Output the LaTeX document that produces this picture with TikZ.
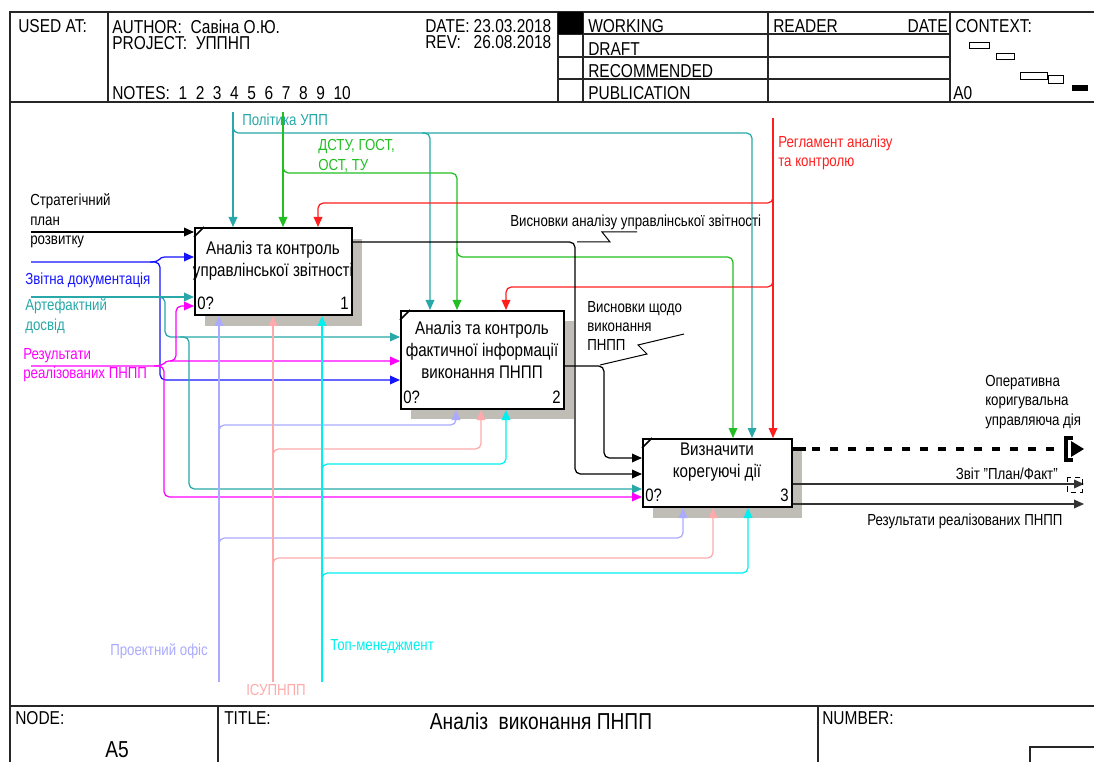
\documentclass[tikz,border=0pt]{standalone}
\usepackage{fontspec}
\setmainfont{Liberation Sans}[FakeStretch=0.83]
\usetikzlibrary{arrows.meta,fit,calc}

\definecolor{cTeal}{RGB}{40,168,168}
\definecolor{cGreen}{RGB}{34,190,34}
\definecolor{cRed}{RGB}{255,30,30}
\definecolor{cBlue}{RGB}{20,20,255}
\definecolor{cMag}{RGB}{255,0,255}
\definecolor{cLav}{RGB}{170,170,255}
\definecolor{cPink}{RGB}{255,170,170}
\definecolor{cCyan}{RGB}{0,240,240}
\definecolor{cShadow}{RGB}{192,188,182}

\begin{document}
\begin{tikzpicture}[x=0.75pt,y=-0.75pt,
  every node/.style={inner sep=0pt},
  frame/.style={line width=0.9pt, black!85},
  hdr/.style={font=\fontsize{14}{15}\selectfont, anchor=base west},
  hdre/.style={hdr, anchor=base east},
  hdrtwo/.style={font=\fontsize{14}{12}\selectfont, anchor=north west, align=left},
  ftitle/.style={font=\fontsize{17.3}{19}\selectfont, anchor=base},
  box/.style={draw, line width=1.5pt, fill=white},
  boxtxt/.style={font=\fontsize{13.7}{16.5}\selectfont, align=center},
  numtxt/.style={font=\fontsize{13.5}{16}\selectfont},
  lbl/.style={font=\fontsize{12}{14.6}\selectfont, anchor=west, align=left},
  arr/.style={line width=0.95pt, rounded corners=4pt, -{Triangle[length=7.5pt,width=6.5pt]}},
  leader/.style={line width=0.75pt},
]
\useasboundingbox (0,0) rectangle (1094,762);

% ---------- frame and header ----------
\draw[frame] (1094,12) -- (10,12) -- (10,762);
\draw[frame] (10,102) -- (1094,102);
\draw[frame] (10,706) -- (1094,706);
\foreach \xx in {108,558,583,768,950} \draw[frame] (\xx,12) -- (\xx,102);
\foreach \yy in {34,57,79} \draw[frame] (558,\yy) -- (950,\yy);
\fill (558,12) rectangle (583,34);

\node[hdr] (usedat) at (18,33) {USED AT:};
\node[hdrtwo] (author) at (112,19.5) {AUTHOR:\ \ Савіна О.Ю.\\PROJECT:\ \ УППНП};
\node[hdr] (notes) at (112,100) {NOTES:\ \ 1\ \ 2\ \ 3\ \ 4\ \ 5\ \ 6\ \ 7\ \ 8\ \ 9\ \ 10};
\node[hdrtwo, text width=94.5pt] (dates) at (425,19.5) {DATE:\hfill 23.03.2018\\REV:\hfill 26.08.2018};
\node[hdr] (working) at (588,33) {WORKING};
\node[hdr] (draft) at (588,56) {DRAFT};
\node[hdr] (recom) at (588,78) {RECOMMENDED};
\node[hdr] (publ) at (588,100) {PUBLICATION};
\node[hdr] (reader) at (773,33) {READER};
\node[hdre] (rdate) at (948,33) {DATE};
\node[hdr] (context) at (955,33) {CONTEXT:};
\node[hdr] (azero) at (953,100) {A0};

% context map
\draw[line width=0.75pt] (969,43) rectangle (989,49);
\draw[line width=0.75pt] (996,54) rectangle (1014,60);
\draw[line width=0.75pt] (1020,73) rectangle (1047,80);
\draw[line width=0.75pt] (1048,76) rectangle (1063,84);
\fill (1072,85) rectangle (1088,91);

% ---------- footer ----------
\draw[frame] (218,706) -- (218,762);
\draw[frame] (818,706) -- (818,762);
\draw[frame] (1094,747) -- (1030,747) -- (1030,762);
\node[hdr] (nodel) at (15,724) {NODE:};
\node[hdr] (titlel) at (224,724) {TITLE:};
\node[hdr] (numberl) at (822,724) {NUMBER:};
\node[ftitle] (ttl) at (541,729) {Аналіз\ \ виконання ПНПП};
\node[ftitle] (nodeid) at (117,757) {A5};

% ---------- activity boxes ----------
\coordinate (b1a) at (195,228); \coordinate (b1b) at (352,315);
\coordinate (b2a) at (401,311); \coordinate (b2b) at (564,409);
\coordinate (b3a) at (643,439); \coordinate (b3b) at (792,507);
\fill[cShadow] ($(b1a)+(10,11)$) rectangle ($(b1b)+(10,11)$);
\fill[cShadow] ($(b2a)+(10,10)$) rectangle ($(b2b)+(10,10)$);
\fill[cShadow] ($(b3a)+(10,11)$) rectangle ($(b3b)+(10,11)$);
\node[box, fit=(b1a)(b1b)] (b1) {};
\node[box, fit=(b2a)(b2b)] (b2) {};
\node[box, fit=(b3a)(b3b)] (b3) {};
\foreach \b in {b1,b2,b3}
  \draw[line width=1.3pt] ($(\b.north west)+(0,10)$) -- ($(\b.north west)+(10,0)$);

\node[boxtxt] (t1) at (273,261) {Аналіз та контроль\\управлінської звітності};
\node[boxtxt] (t2) at (482,350) {Аналіз та контроль\\фактичної інформації\\виконання ПНПП};
\node[boxtxt] (t3) at (717,462) {Визначити\\корегуючі дії};
\node[numtxt, anchor=west] (n1a) at ($(b1.south west)+(3,-13)$) {0?};
\node[numtxt, anchor=east] (n1b) at ($(b1.south east)+(-4,-13)$) {1};
\node[numtxt, anchor=west] (n2a) at ($(b2.south west)+(3,-13)$) {0?};
\node[numtxt, anchor=east] (n2b) at ($(b2.south east)+(-4,-13)$) {2};
\node[numtxt, anchor=west] (n3a) at ($(b3.south west)+(3,-13)$) {0?};
\node[numtxt, anchor=east] (n3b) at ($(b3.south east)+(-4,-13)$) {3};

% ---------- controls ----------
\coordinate (polS) at (233,112);
\coordinate (polJ) at (233,124);
\coordinate (polK) at (422,133);
\draw[arr, cTeal] (polS) -- (polS |- b1.north);
\draw[arr, cTeal] (polJ) -- (233,133) -- (752,133) -- (752,0 |- b3.north);
\draw[arr, cTeal] (polK) -- (430,133) -- (430,0 |- b2.north);

\coordinate (dstS) at (283,112);
\coordinate (dstJ) at (283,164);
\coordinate (dstK) at (457,248);
\draw[arr, cGreen] (dstS) -- (dstS |- b1.north);
\draw[arr, cGreen] (dstJ) -- (283,173) -- (457,173) -- (457,0 |- b2.north);
\draw[arr, cGreen] (dstK) -- (457,257) -- (733,257) -- (733,0 |- b3.north);

\coordinate (regS) at (773,118);
\coordinate (regJ) at (773,194);
\coordinate (regK) at (773,278);
\draw[arr, cRed] (regS) -- (regS |- b3.north);
\draw[arr, cRed] (regJ) -- (773,203) -- (318,203) -- (318,0 |- b1.north);
\draw[arr, cRed] (regK) -- (773,287) -- (506,287) -- (506,0 |- b2.north);

% ---------- inputs ----------
\coordinate (strS) at (31,232);
\draw[arr] (strS) -- (strS -| b1.west);

\coordinate (zvS) at (31,262);
\coordinate (zvJ) at (150,262);
\draw[arr, cBlue] (zvS) -- (160,262) -- (160,380) -- (b2.west |- 0,380);
\draw[arr, cBlue] (zvJ) .. controls (162,262) and (158,257) .. (170,257) -- (b1.west |- 0,257);

\coordinate (artS) at (31,297);
\coordinate (artJ) at (156,297);
\coordinate (artK) at (180,337);
\draw[arr, cTeal] (artS) -- (artS -| b1.west);
\draw[arr, cTeal] (artJ) -- (165,297) -- (165,337) -- (b2.west |- 0,337);
\draw[arr, cTeal] (artK) -- (189,337) -- (189,489) -- (b3.west |- 0,489);

\coordinate (resS) at (31,366);
\coordinate (resJ) at (154,366);
\coordinate (resK) at (170,361);
\draw[arr, cMag] (resS) -- (164,366) -- (164,497) -- (b3.west |- 0,497);
\draw[arr, cMag] (resJ) .. controls (166,366) and (164,361) .. (174,361) -- (b2.west |- 0,361);
\draw[arr, cMag] (resK) -- (176,361) -- (176,306) -- (b1.west |- 0,306);

% ---------- mechanisms ----------
\coordinate (proS) at (219,682);
\coordinate (proJ) at (219,433);
\coordinate (proK) at (219,546);
\draw[arr, cLav] (proS) -- (proS |- b1.south);
\draw[arr, cLav] (proJ) -- (219,425) -- (456,425) -- (456,0 |- b2.south);
\draw[arr, cLav] (proK) -- (219,538) -- (683,538) -- (683,0 |- b3.south);

\coordinate (isuS) at (273,682);
\coordinate (isuJ) at (273,457);
\coordinate (isuK) at (273,566);
\draw[arr, cPink] (isuS) -- (isuS |- b1.south);
\draw[arr, cPink] (isuJ) -- (273,449) -- (481,449) -- (481,0 |- b2.south);
\draw[arr, cPink] (isuK) -- (273,558) -- (713,558) -- (713,0 |- b3.south);

\coordinate (topS) at (322,682);
\coordinate (topJ) at (322,472);
\coordinate (topK) at (322,581);
\draw[arr, cCyan] (topS) -- (topS |- b1.south);
\draw[arr, cCyan] (topJ) -- (322,464) -- (506,464) -- (506,0 |- b2.south);
\draw[arr, cCyan] (topK) -- (322,573) -- (748,573) -- (748,0 |- b3.south);

% ---------- outputs ----------
\draw[arr] (b1.east |- 0,242) -- (575,242) -- (575,474) -- (b3.west |- 0,474);
\draw[arr] (b2.east |- 0,366) -- (604,366) -- (604,458) -- (b3.west |- 0,458);

\coordinate (opD) at (1066,449);
\coordinate (opE) at (1084,449);
\draw[line width=3pt] (b3.east |- 0,449) -- (806,449);
\draw[line width=3pt, dash pattern=on 6pt off 7.5pt] (812,449) -- (opD);
\fill (1071,441) -- (opE) -- (1071,457) -- cycle;
\draw[line width=2.4pt] (1073,438) -- (1066,438) -- (1066,460) -- (1073,460);

\coordinate (pfE) at (1084,484);
\draw[arr, black!80] (b3.east |- 0,484) -- (pfE);
\draw[line width=0.75pt, dash pattern=on 4pt off 3pt] (1067,477) rectangle (1082,492);

\coordinate (rrE) at (1084,504);
\draw[arr, black!80] (b3.east |- 0,504) -- (rrE);

% leaders
\draw[leader] (577,242) -- (610,242) -- (602,232) -- (637,232);
\draw[leader] (600,365) -- (647,354) -- (638,345) -- (684,334);

% ---------- arrow labels ----------
\node[lbl, text=cTeal] (lpol) at (242,120) {Політика УПП};
\node[lbl, text=cGreen] (ldst) at (318,156) {ДСТУ, ГОСТ,\\ОСТ, ТУ};
\node[lbl, text=cRed] (lreg) at (778,153) {Регламент аналізу\\та контролю};
\node[lbl] (lstr) at (30,221) {Стратегічний\\план\\розвитку};
\node[lbl, text=cBlue] (lzv) at (25,280) {Звітна документація};
\node[lbl, text=cTeal] (lart) at (25,316) {Артефактний\\досвід};
\node[lbl, text=cMag] (lres) at (23,365) {Результати\\реалізованих ПНПП};
\node[lbl, text=cLav] (lpro) at (110,651) {Проектний офіс};
\node[lbl, text=cPink, anchor=center] (lisu) at (276,690) {ІСУПНПП};
\node[lbl, text=cCyan] (ltop) at (330,647) {Топ-менеджмент};
\node[lbl] (lva) at (510,222) {Висновки аналізу управлінської звітності};
\node[lbl] (lvs) at (587,326) {Висновки щодо\\виконання\\ПНПП};
\node[lbl] (lop) at (985,402) {Оперативна\\коригувальна\\управляюча дія};
\node[lbl, anchor=east] (lpf) at (1058,474) {Звіт "План/Факт"};
\node[lbl] (lrr) at (867,521) {Результати реалізованих ПНПП};
\end{tikzpicture}
\end{document}
